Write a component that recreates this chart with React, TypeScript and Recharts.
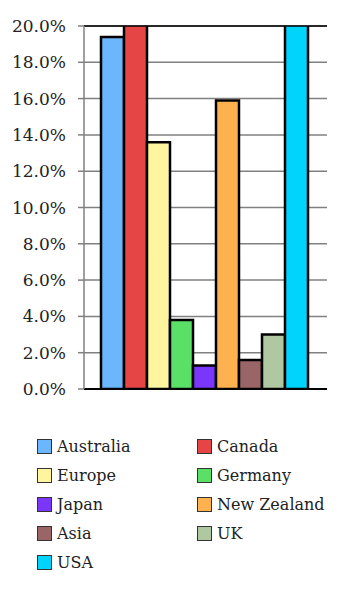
import React from 'react';
import {
  BarChart,
  Bar,
  XAxis,
  YAxis,
  CartesianGrid,
  ReferenceLine,
} from 'recharts';

// Series names and their share (%) — Canada and USA run past the top of the axis
const regions = [
  'Australia',
  'Canada',
  'Europe',
  'Germany',
  'Japan',
  'New Zealand',
  'Asia',
  'UK',
  'USA',
];
const shares = [19.4, 22.0, 13.6, 3.8, 1.3, 15.9, 1.6, 3.0, 24.0];
const colors = [
  '#6cb6fd',
  '#e64545',
  '#fff59f',
  '#5be067',
  '#7b36fb',
  '#feb24f',
  '#9a6566',
  '#b0c8a1',
  '#00d4fd',
];
const yTicks = [0, 2, 4, 6, 8, 10, 12, 14, 16, 18, 20];

const row: Record<string, number | string> = { name: '' };
regions.forEach((r, i) => {
  row[r] = shares[i];
});
const data = [row];

const font = "'DejaVu Serif'";

const App: React.FC = () => {
  return (
    <div
      style={{
        position: 'absolute',
        left: 0,
        top: 0,
        width: 355,
        height: 597,
        background: '#fff',
        fontFamily: font,
      }}
    >
      <BarChart
        width={355}
        height={400}
        data={data}
        margin={{ top: 26, right: 28, left: 0, bottom: 1 }}
        barCategoryGap={17}
        barGap={0}
      >
        <CartesianGrid vertical={false} stroke="#808080" strokeWidth={1.5} />
        <XAxis
          dataKey="name"
          tick={false}
          tickLine={false}
          height={10}
          axisLine={{ stroke: '#000', strokeWidth: 2 }}
        />
        <YAxis
          width={84}
          domain={[0, 20]}
          ticks={yTicks}
          allowDataOverflow
          interval={0}
          tickSize={6}
          tickMargin={12}
          axisLine={{ stroke: '#808080', strokeWidth: 1.5 }}
          tickLine={{ stroke: '#808080', strokeWidth: 1.5 }}
          tick={{ fill: '#222', fontSize: 17, fontFamily: font }}
          tickFormatter={(v: number) => `${v.toFixed(1)}%`}
        />
        {regions.map((r, i) => (
          <Bar
            key={r}
            dataKey={r}
            fill={colors[i]}
            stroke="#000"
            strokeWidth={2.5}
            isAnimationActive={false}
          />
        ))}
        <ReferenceLine y={20} stroke="#000" strokeWidth={1.5} />
      </BarChart>

      {/* Legend, two columns */}
      <div
        style={{
          position: 'absolute',
          left: 37,
          top: 432,
          display: 'grid',
          gridTemplateColumns: '160px 160px',
          gridAutoRows: '29px',
        }}
      >
        {regions.map((r, i) => (
          <div
            key={r}
            style={{ display: 'flex', alignItems: 'center', height: 29 }}
          >
            <span
              style={{
                width: 13,
                height: 13,
                background: colors[i],
                border: '1.5px solid #333',
                marginRight: 5,
                flex: 'none',
              }}
            />
            <span style={{ fontSize: 16, color: '#222', lineHeight: '20px' }}>
              {r}
            </span>
          </div>
        ))}
      </div>
    </div>
  );
};

export default App;
